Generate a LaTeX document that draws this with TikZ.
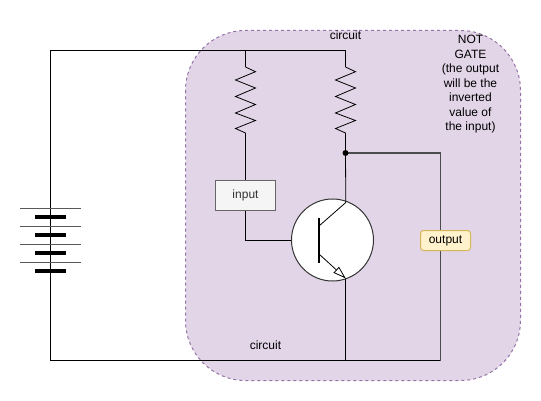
\documentclass[tikz,border=0pt]{standalone}
\usepackage{fontspec}
\setmainfont{Liberation Sans}
\usetikzlibrary{arrows.meta,positioning}
\definecolor{groupfill}{HTML}{E1D5E7}
\definecolor{groupline}{HTML}{9673A6}
\definecolor{inputfill}{HTML}{F5F5F5}
\definecolor{inputline}{HTML}{666666}
\definecolor{inputtext}{HTML}{333333}
\definecolor{outputfill}{HTML}{FFF2CC}
\definecolor{outputline}{HTML}{D6B656}
\tikzset{
    wire/.style = {draw = black, line width = .8pt},
    greywire/.style = {draw = black!70, line width = 1.2pt},
    label/.style = {inner sep = 0pt, font = \fontsize{12}{14.5}\selectfont, align = center},
    inputbox/.style = {label, draw = inputline, fill = inputfill, text = inputtext, minimum width = 60pt, minimum height = 30pt, line width = 1pt},
    outputbox/.style = {label, draw = outputline, fill = outputfill, rounded corners = 3pt, minimum width = 50pt, minimum height = 20pt, line width = 1pt}
}
\begin{document}
\begin{tikzpicture}[x=1pt,y=-1pt]
    \useasboundingbox (0,0) rectangle (541,401);

    % group behind the circuit
    \draw[draw = groupline, fill = groupfill, line width = 1pt, dash pattern = on 3pt off 3pt, rounded corners = 60pt] (185.5,30.5) rectangle (520.5,380.5);

    \coordinate (battop) at (50.5,208);
    \coordinate (batbottom) at (50.5,271);
    \coordinate (topleft) at (50.5,50.5);
    \coordinate (bottomleft) at (50.5,360.5);
    \coordinate (topone) at (245.5,50.5);
    \coordinate (toptwo) at (345.5,50.5);
    \coordinate (resone) at (245.5,133);
    \coordinate (restwo) at (345.5,133);
    \coordinate (junction) at (345.5,153);
    \coordinate (bottomright) at (440.5,360.5);
    \coordinate (cornerright) at (440.5,153);
    \coordinate (bottommid) at (345.8,360.5);

    % outer wires
    \draw[wire] (battop) -- (topleft) -- (toptwo) -- (345.5,67);
    \draw[wire] (topone) -- (245.5,67);
    \draw[wire] (batbottom) -- (bottomleft) -- (bottomright);

    % resistors
    \foreach \x in {245.5,345.5} {
        \draw[wire] (\x,67) -- (\x+10,71.7) -- (\x-10,80) -- (\x+10,88) -- (\x-10,96.5) -- (\x+10,104.5) -- (\x-10,113) -- (\x+10,120.5) -- (\x-10,128.5) -- (\x,133);
    }

    % battery
    \draw[wire] (50.5,208) -- (50.5,271);
    \foreach \y in {208,226,244,262} {
        \draw[draw = black!65, line width = 1pt] (20,\y) -- (80.5,\y);
        \draw[draw = black, line width = 4pt] (35,\y+9) -- (66,\y+9);
    }

    % transistor
    \node[circle, draw = black!80, fill = white, line width = 1pt, minimum size = 82pt, inner sep = 0pt] (transistor) at (332.5,240) {};
    \coordinate (collector) at (345.8,202.5);
    \coordinate (emitter) at (345.8,278.5);
    \draw[draw = black, line width = 2pt] (319,217.5) -- (319,263);
    \draw[wire] (319,226) -- (collector);
    \draw[wire, -{Triangle[open, fill = white, length = 13pt, width = 8pt]}] (319,254) -- (emitter);

    % nodes
    \node[inputbox] (input) at (245.5,195.5) {input};
    \node[outputbox] (output) at (445.5,240.5) {output};
    \node[label] (circuittop) at (345.5,35) {circuit};
    \node[label] (circuitbottom) at (265.5,345) {circuit};
    \node[label] (notgate) at (470.5,84.5) {NOT\\GATE\\(the output\\will be the\\inverted\\value of\\the input)};

    % wires to the nodes
    \draw[wire] (resone) -- (input);
    \draw[wire] (input) |- (transistor);
    \draw[wire] (restwo) -- (junction) -- (collector);
    \draw[wire] (emitter) -- (bottommid);
    \draw[greywire] (junction) -- (cornerright) -- (output.north -| cornerright);
    \draw[greywire] (output.south -| cornerright) -- (bottomright);
    \fill (junction) circle (3pt);
\end{tikzpicture}
\end{document}
